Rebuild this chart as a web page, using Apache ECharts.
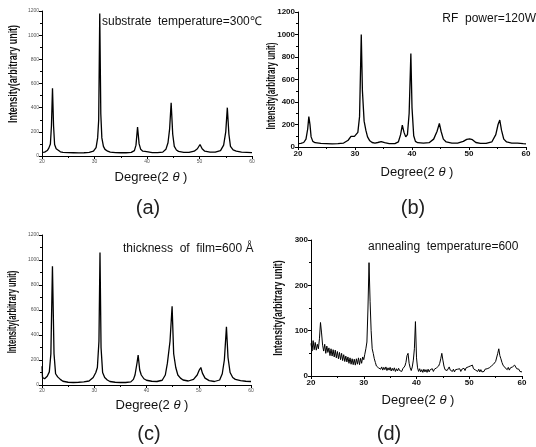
<!DOCTYPE html>
<html><head><meta charset="utf-8">
<script src="https://cdn.jsdelivr.net/npm/echarts@6/dist/echarts.min.js"></script>
<style>html,body{margin:0;padding:0;background:#fff}#c{width:536px;height:447px}</style>
</head><body><div id="c"></div>
<script>
// x-axis ticks (degree 2θ)
const xTicks = [20, 30, 40, 50, 60];
// y-axis tick ranges
const yTicksABC = [0, 200, 400, 600, 800, 1000, 1200];
const yTicksD = [0, 100, 200, 300];

const titles = ['substrate  temperature=300\u2103', 'RF  power=120W', 'thickness  of  film=600 \u00C5', 'annealing  temperature=600'];
const panelLabels = ['(a)', '(b)', '(c)', '(d)'];

// (a) substrate temperature = 300 C
const degA = [20,20.5,21,21.3,21.6,21.8,22,22.2,22.4,22.7,23,23.5,24,25,26,27,28,29,29.8,30.3,30.6,30.8,31,31.2,31.4,31.7,32,32.5,33,34,35,36,37,37.6,37.9,38.2,38.5,38.8,39.2,39.6,39.9,40.2,41,42,43,43.6,44,44.3,44.6,44.9,45.2,45.6,46,47,48,49,49.6,50.1,50.5,51,52,53,54,54.6,55,55.3,55.6,55.9,56.4,57,58,59,60];
const intA = [30,32,45,65,100,250,560,250,95,60,45,35,30,28,27,26,27,30,40,70,150,300,1180,350,150,80,55,40,32,28,27,27,30,45,90,240,100,55,40,38,45,35,28,28,32,55,110,220,440,180,80,50,38,30,30,40,60,95,60,40,32,32,45,90,200,400,180,80,50,40,32,30,28];

// (b) RF power = 120 W
const degB = [20,20.5,21,21.4,21.7,21.9,22.1,22.3,22.6,23,24,25,26,27,28,28.8,29.3,29.6,29.9,30.2,30.5,30.8,31.1,31.3,31.6,31.9,32.2,32.6,33,33.5,34,34.6,35.2,36,37,37.6,38,38.3,38.6,38.9,39.2,39.5,39.8,40,40.3,40.6,41,42,43,43.8,44.4,44.8,45.1,45.5,46,47,48,49,49.6,50.1,50.6,51.2,52,53,54,54.7,55.1,55.4,55.7,56.1,56.6,57.5,58.5,59.5,60];
const intB = [30,32,40,70,160,270,200,90,50,38,32,30,28,30,35,60,95,107,95,85,130,270,1000,500,230,150,90,55,40,35,40,48,38,30,30,45,110,195,130,90,110,300,830,350,100,50,38,35,38,70,140,210,140,70,45,35,35,50,68,72,65,40,32,32,45,110,200,240,150,70,45,35,35,30,28];

// (c) thickness of film = 600 A
const degC = [20,20.1,20.5,21,21.4,21.7,22,22.3,22.6,23,23.5,24,25,26,27,28,29,29.8,30.3,30.6,30.9,31.1,31.3,31.6,32,32.5,33,34,35,36,37,37.5,37.8,38.2,38.4,38.7,39,39.5,40,41,42,43,43.6,44,44.5,44.9,45.2,45.6,46,46.5,47,48,49,49.7,50.1,50.4,50.7,51.2,52,53,54,54.5,54.9,55.3,55.6,56,56.5,57,58,59,60];
const intC = [150,60,50,70,105,250,950,250,90,65,45,30,22,20,22,25,32,60,100,140,350,1060,300,100,60,40,28,22,20,20,25,45,80,180,240,120,80,50,38,30,28,38,80,175,350,630,250,140,80,55,40,32,45,80,120,140,95,55,35,28,40,90,200,465,220,100,60,45,35,30,28];

// (d) annealing temperature = 600
const degD = [20,20.2,20.4,20.6,20.8,21,21.2,21.4,21.6,21.8,22,22.2,22.4,22.6,22.8,23,23.2,23.4,23.6,23.8,24,24.2,24.4,24.6,24.8,25,25.2,25.4,25.6,25.8,26,26.2,26.4,26.6,26.8,27,27.2,27.4,27.6,27.8,28,28.2,28.4,28.6,28.8,29,29.2,29.4,29.6,29.8,30,30.2,30.4,30.6,30.8,31,31.2,31.4,31.6,31.8,32,32.2,32.4,32.6,32.8,33,33.2,33.4,33.6,33.8,34,34.2,34.4,34.6,34.8,35,35.2,35.4,35.6,35.8,36,36.2,36.4,36.6,36.8,37,37.2,37.4,37.6,37.8,38,38.2,38.4,38.6,38.8,39,39.2,39.4,39.6,39.8,40,40.2,40.4,40.6,40.8,41,41.2,41.4,41.6,41.8,42,42.2,42.4,42.6,42.8,43,43.2,43.4,43.6,43.8,44,44.2,44.4,44.6,44.8,45,45.2,45.4,45.6,45.8,46,46.2,46.4,46.6,46.8,47,47.2,47.4,47.6,47.8,48,48.2,48.4,48.6,48.8,49,49.2,49.4,49.6,49.8,50,50.2,50.4,50.6,50.8,51,51.2,51.4,51.6,51.8,52,52.2,52.4,52.6,52.8,53,53.2,53.4,53.6,53.8,54,54.2,54.4,54.6,54.8,55,55.2,55.4,55.6,55.8,56,56.2,56.4,56.6,56.8,57,57.2,57.4,57.6,57.8,58,58.2,58.4,58.6,58.8,59,59.2,59.4,59.6,59.8,60];
const intD = [72,55,78,58,74,57,70,60,82,118,95,68,55,70,50,66,52,62,45,60,44,58,42,57,40,54,38,52,36,50,34,47,32,44,31,42,28,40,26,38,25,37,24,38,26,40,25,39,28,42,36,48,60,75,150,250,165,100,60,50,38,30,22,26,18,22,15,20,13,19,14,20,12,18,13,19,11,17,12,18,10,16,11,17,12,15,10,16,14,22,30,45,50,28,18,12,20,35,60,120,40,18,10,16,9,14,8,15,9,14,8,15,9,14,10,16,10,15,12,18,16,22,28,38,50,35,22,14,18,12,16,20,13,17,10,15,9,14,10,15,11,16,10,15,12,17,12,18,14,20,16,22,18,24,16,20,13,17,10,15,9,14,9,13,10,15,11,16,13,18,15,22,18,26,24,32,36,50,60,45,38,30,24,26,18,22,14,19,13,18,14,20,17,24,20,16,12,15,10,13,9];

const pairs = (xs, ys) => xs.map((x, i) => [x, ys[i]]);

const grids = [
  {left: 42, top: 11, width: 210, height: 145},
  {left: 298, top: 12, width: 228, height: 135},
  {left: 42, top: 235, width: 209, height: 150},
  {left: 311, top: 240, width: 211, height: 136}
];
const small = [true, false, true, false];
const yTicksList = [yTicksABC, yTicksABC, yTicksABC, yTicksD];
const seriesData = [pairs(degA, intA), pairs(degB, intB), pairs(degC, intC), pairs(degD, intD)];

const plain = v => String(v);
const smallLabel = {fontSize: 5, color: '#555', margin: 3, fontFamily: 'Liberation Sans', formatter: plain};
const bigLabel = {fontSize: 8, color: '#111', margin: 3, fontWeight: 'bold', fontFamily: 'Liberation Sans', formatter: plain};

const xAxes = grids.map((g, i) => ({
  gridIndex: i, type: 'value', min: xTicks[0], max: xTicks[xTicks.length - 1], interval: 10,
  axisLine: {lineStyle: {color: '#000', width: 1}}, axisTick: {length: 3, lineStyle: {color: '#000'}},
  minorTick: {show: true, splitNumber: 2, length: 2, lineStyle: {color: '#000'}},
  splitLine: {show: false},
  axisLabel: small[i] ? smallLabel : bigLabel
}));
const yAxes = grids.map((g, i) => {
  const t = yTicksList[i];
  return {
    gridIndex: i, type: 'value', min: t[0], max: t[t.length - 1], interval: t[1] - t[0],
    axisLine: {show: true, lineStyle: {color: '#000', width: 1}},
    axisTick: {show: true, length: 3, lineStyle: {color: '#000'}},
    minorTick: {show: true, splitNumber: 2, length: 2, lineStyle: {color: '#000'}},
    splitLine: {show: false},
    axisLabel: small[i] ? smallLabel : bigLabel
  };
});
const series = seriesData.map((d, i) => ({
  type: 'line', xAxisIndex: i, yAxisIndex: i, data: d, showSymbol: false, symbol: 'none',
  lineStyle: {color: '#000', width: i === 3 ? 1 : 1.3}, silent: true
}));

const titlePos = [[102, 22, 'left'], [536, 19, 'right'], [123, 249, 'left'], [368, 247, 'left']];
const yNamePos = [[13, 74], [271, 86], [12, 312], [278, 308]];
const yNameScale = [0.69, 0.61, 0.58, 0.67];
const xNamePos = [[151, 177], [417, 172], [152, 405], [418, 400]];
const labelPos = [[148, 208], [413, 208], [149, 434], [389, 434]];

const graphic = [];
for (let i = 0; i < 4; i++) {
  graphic.push({type: 'text', x: titlePos[i][0], y: titlePos[i][1], silent: true,
    style: {text: titles[i], fill: '#111', font: '12px "Liberation Sans"', align: titlePos[i][2], verticalAlign: 'middle'}});
  graphic.push({type: 'text', x: yNamePos[i][0], y: yNamePos[i][1], rotation: Math.PI / 2, scaleX: yNameScale[i], scaleY: 1, silent: true,
    style: {text: 'Intensity(arbitrary unit)', fill: '#111', font: 'bold 13px "Liberation Sans", sans-serif', align: 'center', verticalAlign: 'middle'}});
  graphic.push({type: 'text', x: xNamePos[i][0], y: xNamePos[i][1], silent: true,
    style: {text: 'Degree(2 {i|\u03B8} )', fill: '#111', font: '13px "Liberation Sans"', align: 'center', verticalAlign: 'middle',
      rich: {i: {fontStyle: 'italic', fontSize: 13, fontFamily: 'Liberation Sans', fill: '#111'}}}});
  graphic.push({type: 'text', x: labelPos[i][0], y: labelPos[i][1], silent: true,
    style: {text: panelLabels[i], fill: '#222', font: '20px "Liberation Sans"', align: 'center', verticalAlign: 'middle'}});
}

const chart = echarts.init(document.getElementById('c'), null, {renderer: 'canvas'});
chart.setOption({animation: false, backgroundColor: '#fff', grid: grids, xAxis: xAxes, yAxis: yAxes, series: series, graphic: graphic});
</script>
</body></html>
